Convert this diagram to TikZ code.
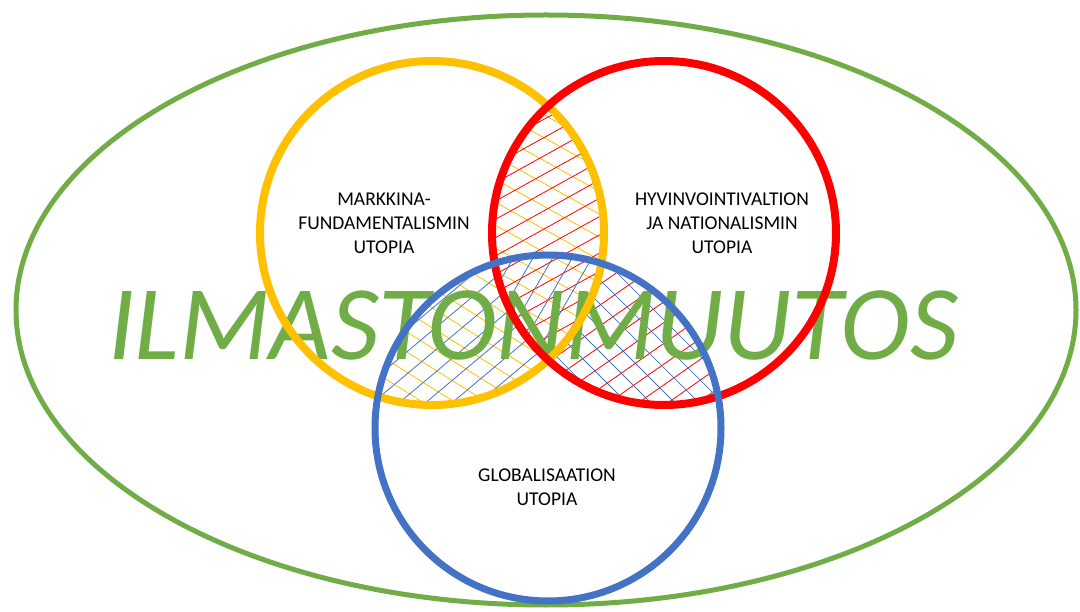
\documentclass[tikz,border=0pt]{standalone}
\usepackage{fontspec}
\setmainfont{Carlito}
\definecolor{cgreen}{HTML}{70AD47}
\definecolor{cyellow}{HTML}{FFC000}
\definecolor{cred}{HTML}{FF0000}
\definecolor{cblue}{HTML}{4472C4}
\newcommand\hatchfam[3]{% color, angle, spacing
  \foreach \k in {-28,...,28}{\draw[hatchline,#1,shift={(548,300)},rotate=#2] (-450,\k*#3) -- (450,\k*#3);}}
\begin{document}
\begin{tikzpicture}[x=1pt,y=-1pt,
  ring/.style={line width=8pt},
  hatchline/.style={line width=0.8pt},
  lbl/.style={align=center,font=\fontsize{19.5}{24}\selectfont,inner sep=0pt,text=black}]
\useasboundingbox (0,0) rectangle (1080,612);
\coordinate (Y) at (432,233);
\coordinate (R) at (664,233);
\coordinate (B) at (548,428);
\coordinate (E) at (546,310);

% yellow-red intersection (incl. centre)
\begin{scope}
  \clip (Y) circle[radius=172];
  \clip (R) circle[radius=172];
  \hatchfam{cyellow}{-29}{20}
  \hatchfam{cred}{29}{16}
\end{scope}
% yellow-blue intersection outside red
\begin{scope}[even odd rule]
  \clip (Y) circle[radius=172];
  \clip (B) circle[radius=173];
  \clip (-20,-20) rectangle (1100,640) (R) circle[radius=172];
  \hatchfam{cyellow}{-32}{17}
  \hatchfam{cblue}{40}{17}
\end{scope}
% red-blue intersection outside yellow
\begin{scope}[even odd rule]
  \clip (R) circle[radius=172];
  \clip (B) circle[radius=173];
  \clip (-20,-20) rectangle (1100,640) (Y) circle[radius=172];
  \hatchfam{cred}{35}{17}
  \hatchfam{cblue}{-45}{17}
\end{scope}
% centre: blue lines as well
\begin{scope}
  \clip (Y) circle[radius=172];
  \clip (R) circle[radius=172];
  \clip (B) circle[radius=173];
  \hatchfam{cblue}{60}{17}
\end{scope}

\node[font=\fontsize{106}{106}\selectfont\itshape, text=cgreen, anchor=base, inner sep=0pt] (title) at (533,360) {ILMASTONMUUTOS};

\draw[cgreen, line width=5pt] (E) ellipse[x radius=530, y radius=295];
\draw[ring, cyellow] (Y) circle[radius=172];
\draw[ring, cred] (R) circle[radius=172];
\draw[ring, cblue, line width=7pt] (B) circle[radius=173];

\node[lbl] (tY) at (384,223.5) {MARKKINA-\\FUNDAMENTALISMIN\\UTOPIA};
\node[lbl] (tR) at (722,223.5) {HYVINVOINTIVALTION\\JA NATIONALISMIN\\UTOPIA};
\node[lbl] (tB) at (547,487.5) {GLOBALISAATION\\UTOPIA};
\end{tikzpicture}
\end{document}
